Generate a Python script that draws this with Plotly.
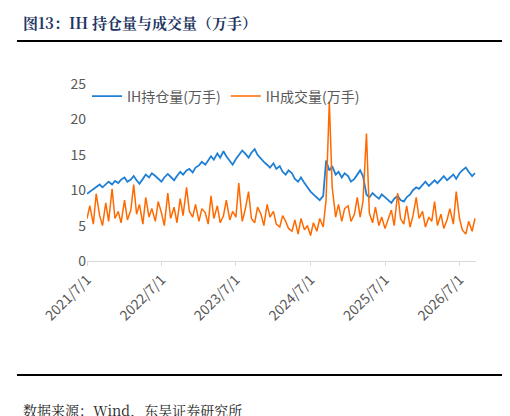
import pandas as pd
import plotly.graph_objects as go

dates = pd.date_range("2021-07-01", periods=126, freq="SMS")

oi = [9.5,9.8,10.2,10.5,10.8,10.4,10.9,11.2,10.8,11.3,11.0,11.5,
      11.8,11.2,11.5,12.0,11.4,10.9,11.6,12.2,11.8,12.4,12.0,11.6,11.2,11.8,12.3,11.9,11.4,12.0,12.6,12.2,12.8,13.0,12.5,13.2,
      13.5,14.0,13.6,14.2,14.8,14.3,15.2,14.6,15.5,14.8,14.2,13.6,14.4,15.0,15.6,15.2,14.6,15.3,15.8,15.0,14.4,14.0,13.6,13.2,
      13.8,13.0,13.4,12.6,12.2,12.8,12.4,11.6,11.2,11.8,11.0,10.4,9.8,9.4,9.0,8.6,9.2,14.2,12.8,13.4,12.2,12.6,11.8,12.4,
      12.0,11.2,11.6,12.2,12.8,12.0,9.4,9.0,9.6,9.2,8.8,9.4,9.0,8.6,8.2,8.8,9.2,8.6,8.4,9.0,9.4,10.0,10.4,10.2,
      10.8,11.2,10.6,11.0,11.4,11.0,11.6,12.0,11.4,11.8,12.2,11.6,12.4,12.8,13.2,12.6,12.0,12.4]

vol = [6.0,7.8,5.2,9.5,6.4,5.0,8.2,5.6,10.2,6.0,7.0,5.4,
       8.6,5.8,7.2,10.8,6.6,8.0,5.2,9.0,6.2,7.4,5.6,8.4,6.8,5.0,9.6,6.0,7.6,5.4,8.8,6.4,10.4,7.0,6.2,8.0,
       5.6,7.4,6.8,5.2,9.2,6.0,7.8,5.4,6.4,8.6,5.8,7.0,6.2,11.0,5.6,7.2,9.8,6.0,5.4,7.6,6.6,5.0,8.0,6.2,
       7.0,5.2,4.8,6.4,5.6,4.6,4.2,5.8,3.8,6.0,4.4,5.0,3.6,5.4,4.2,6.0,4.8,8.6,22.5,10.4,6.2,8.0,5.6,7.4,
       7.8,5.6,6.6,9.0,6.2,8.4,18.0,6.8,5.4,7.6,5.0,6.2,4.6,5.8,7.2,5.0,9.6,6.0,5.2,7.8,4.8,6.4,9.0,6.0,
       7.0,4.8,6.2,5.6,8.4,5.0,6.6,4.6,5.8,7.4,5.2,9.8,6.0,4.4,3.8,5.6,4.2,6.0]

tickvals = ["2021-07-01","2022-07-01","2023-07-01","2024-07-01","2025-07-01","2026-07-01"]
ticktext = ["2021/7/1","2022/7/1","2023/7/1","2024/7/1","2025/7/1","2026/7/1"]

fig = go.Figure()
fig.add_trace(go.Scatter(x=dates, y=oi, mode="lines", name="IH持仓量(万手)",
                         line=dict(color="#1f7fd4", width=1.8)))
fig.add_trace(go.Scatter(x=dates, y=vol, mode="lines", name="IH成交量(万手)",
                         line=dict(color="#ff6a00", width=1.5)))

fig.update_layout(
    width=510, height=416, plot_bgcolor="white", paper_bgcolor="white",
    margin=dict(l=79, r=42, t=76, b=163, autoexpand=False),
    font=dict(family="Noto Sans CJK SC", color="#595959", size=14),
    legend=dict(orientation="h", x=0.0, y=1.02, xanchor="left", yanchor="top",
                bgcolor="rgba(0,0,0,0)", font=dict(size=14, color="#595959")),
    xaxis=dict(tickvals=tickvals, ticktext=ticktext, tickangle=-45, automargin=False,
               range=["2021-07-01", "2026-09-20"], showgrid=False,
               showline=True, linecolor="#d9d9d9", ticks="outside", tickcolor="#d9d9d9", ticklen=4),
    yaxis=dict(range=[0, 25], dtick=5, showgrid=False, zeroline=False, automargin=False),
    showlegend=True,
)
fig.add_annotation(text="<b>图13：IH 持仓量与成交量（万手）</b>", xref="paper", yref="paper",
                   x=-0.17, y=1.35, xanchor="left", yanchor="middle", showarrow=False,
                   font=dict(size=15, color="#1f3864", family="Noto Serif CJK SC, Noto Sans CJK SC"))
fig.add_annotation(text="数据来源：Wind，东吴证券研究所", xref="paper", yref="paper",
                   x=-0.17, y=-0.84, xanchor="left", yanchor="middle", showarrow=False,
                   font=dict(size=14, color="#222", family="Noto Serif CJK SC, Noto Sans CJK SC"))
fig.add_shape(type="line", xref="paper", yref="paper", x0=-0.18, x1=1.09, y0=1.243, y1=1.243,
              line=dict(color="black", width=2))
fig.add_shape(type="line", xref="paper", yref="paper", x0=-0.18, x1=1.09, y0=-0.644, y1=-0.644,
              line=dict(color="black", width=2))
fig.write_html("out.html")
